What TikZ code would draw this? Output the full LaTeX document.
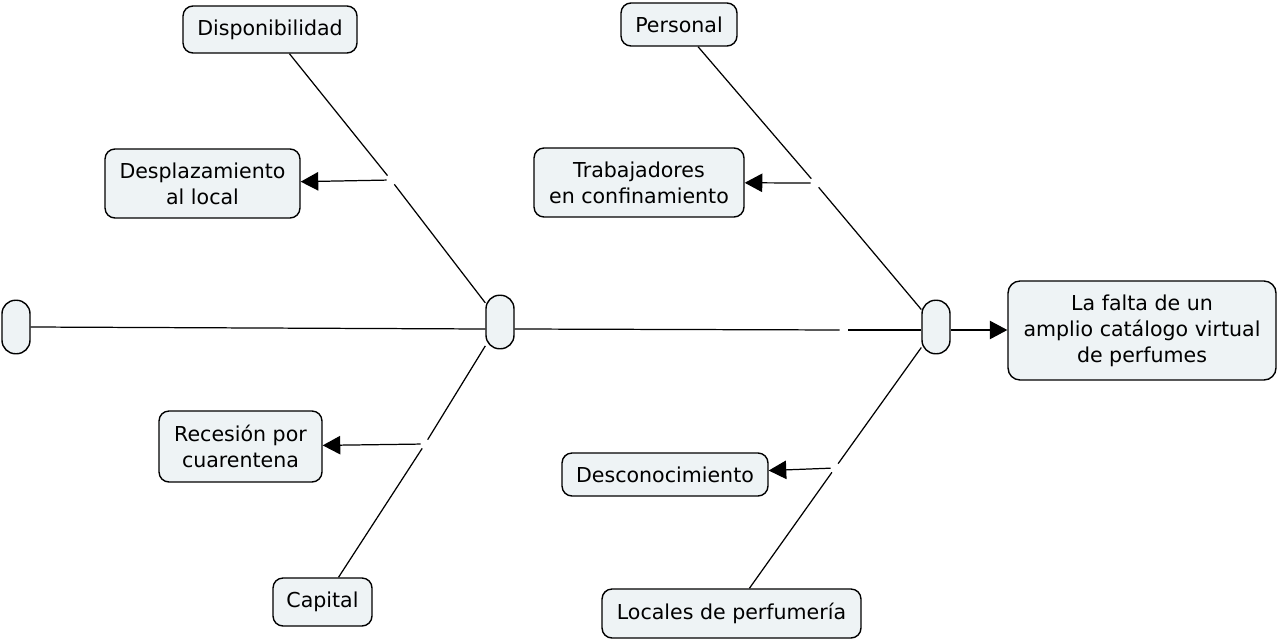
\documentclass[tikz,border=0pt]{standalone}
\usepackage{fontspec}
\setmainfont{DejaVu Sans}
\usetikzlibrary{arrows.meta}
\definecolor{conceptfill}{RGB}{238,243,245}
\tikzset{
  concept/.style={draw, line width=0.8pt, fill=conceptfill, rounded corners=0.2cm,
    align=center, inner sep=0pt, font=\fontsize{11.7}{14.8}\selectfont},
  joint/.style={concept, minimum width=0.56cm, minimum height=1.07cm, rounded corners=0.27cm},
  linkpt/.style={inner sep=0pt, minimum size=0.16cm},
  conn/.style={line width=0.7pt},
  connarrow/.style={conn, -{Triangle[length=10pt,width=10.5pt]}}
}
\begin{document}
\begin{tikzpicture}[x=0.02cm,y=-0.02cm]
\useasboundingbox (0,0) rectangle (1280,642);

\node[concept, minimum width=3.48cm, minimum height=0.94cm] (disp) at (270,29.5) {Disponibilidad};
\node[concept, minimum width=3.9cm, minimum height=1.38cm] (desp) at (202.5,183.5) {Desplazamiento\\al local};
\node[joint] (start) at (16,327) {};
\node[joint] (j1) at (500,322) {};
\node[concept, minimum width=3.26cm, minimum height=1.42cm] (rec) at (240.5,446.5) {Recesión por\\cuarentena};
\node[concept, minimum width=1.98cm, minimum height=0.96cm] (capital) at (322.5,602) {Capital};

\node[concept, minimum width=2.32cm, minimum height=0.86cm] (personal) at (679,24.5) {Personal};
\node[concept, minimum width=4.2cm, minimum height=1.38cm] (trab) at (639,182.5) {Trabajadores\\en confinamiento};
\node[joint] (j2) at (936,327) {};
\node[concept, minimum width=5.36cm, minimum height=1.98cm, rounded corners=0.24cm] (falta) at (1142,330.5) {La falta de un\\amplio catálogo virtual\\de perfumes};
\node[concept, minimum width=4.12cm, minimum height=0.86cm] (descon) at (665,474.5) {Desconocimiento};
\node[concept, minimum width=5.18cm, minimum height=0.98cm] (locales) at (731.5,613.5) {Locales de perfumería};

\node[linkpt] (l1) at (391,180) {};
\node[linkpt] (l2) at (425,444) {};
\node[linkpt] (l3) at (815,183) {};
\node[linkpt] (l4) at (835,468) {};
\node[linkpt] (l5) at (844,330) {};

\draw[conn] (disp) -- (l1);
\draw[conn] (l1) -- (j1);
\draw[connarrow] (l1) -- (desp);
\draw[conn] (capital) -- (l2);
\draw[conn] (l2) -- (j1);
\draw[connarrow] (l2) -- (rec);
\draw[conn] (start.east) -- ([yshift=-0.14cm]j1.west);
\draw[conn] ([yshift=-0.14cm]j1.east) -- (l5);
\draw[conn] (l5.east) -- (l5.east -| j2.west);

\draw[conn] (personal) -- (l3);
\draw[conn] (l3) -- (j2);
\draw[connarrow] (l3) -- (trab);
\draw[conn] (locales) -- (l4);
\draw[conn] (l4) -- (j2);
\draw[connarrow] (l4) -- (descon);
\draw[connarrow] (l5 -| j2.east) -- (l5 -| falta.west);
\end{tikzpicture}
\end{document}
